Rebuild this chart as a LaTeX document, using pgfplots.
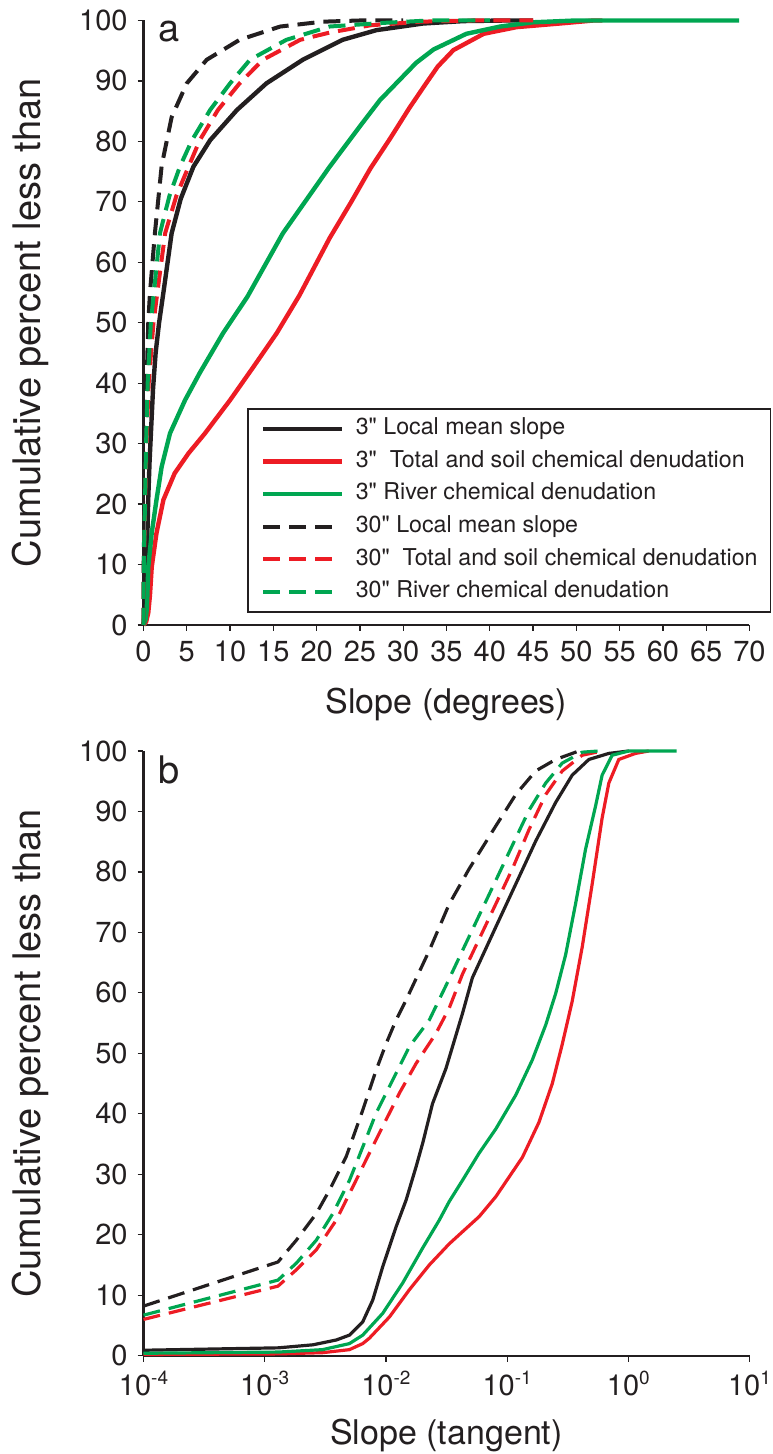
\documentclass[border=0pt]{standalone}
\usepackage{pgfplots}
\pgfplotsset{compat=1.18}
\usepackage{fontspec}
\setmainfont{TeX Gyre Heros}[Ligatures=TeXOff]
\definecolor{cblack}{HTML}{231F20}
\definecolor{cred}{HTML}{ED1C24}
\definecolor{cgreen}{HTML}{00A651}
\newcommand{\sx}[1]{10\raisebox{5.5pt}{\fontsize{9.5}{10}\selectfont #1}}
\pgfplotsset{
 mystyle/.style={
  scale only axis, width=303pt,
  axis x line*=bottom, axis y line*=left,
  axis line style={-, line width=1.1pt, cblack},
  every outer x axis line/.append style={-},
  every outer y axis line/.append style={-},
  tick align=outside, major tick length=3pt,
  every tick/.style={cblack, line width=0.6pt},
  tick label style={font=\fontsize{14.5}{16}\selectfont, text=cblack, inner sep=0pt},
  yticklabel style={xshift=-4.8pt},
  xticklabel style={yshift=-4.8pt},
  /pgf/number format/assume math mode=true,
  ymin=0, ymax=100, ytick={0,10,...,100},
  clip=false,
  xminorticks=false, yminorticks=false,
  ylabel={Cumulative percent less than},
  every axis y label/.style={at={(axis description cs:-0.187,0.5)}, rotate=90, anchor=center, font=\fontsize{19}{21}\selectfont, text=cblack},
  every axis x label/.style={at={(axis description cs:0.5,-0.132)}, anchor=center, font=\fontsize{17}{20}\selectfont, text=cblack},
 },
 sa/.style={line width=2.2pt},
 da/.style={line width=2pt, dash pattern=on 8.5pt off 4.5pt},
 sb/.style={line width=1.6pt},
 db/.style={line width=1.6pt, dash pattern=on 8.5pt off 4.5pt},
 dleg/.style={legend image code/.code={\draw[##1] (0pt,0pt) -- (35pt,0pt);}},
}
\begin{document}
\begin{tikzpicture}
\path[use as bounding box] (0,0) rectangle (386pt,727pt);
% ---------------- panel a ----------------
\begin{axis}[mystyle,
  at={(71.75pt,414.5pt)}, anchor=south west, height=302.25pt,
  xmin=0, xmax=70, xtick={0,5,...,70},
  xlabel={Slope (degrees)},
  legend image code/.code={\draw[#1] (0pt,0pt) -- (39.5pt,0pt);},
  legend style={at={(axis description cs:0.1708,0.359)}, anchor=north west,
    draw=cblack, line width=0.8pt, fill=white,
    inner xsep=6.5pt, inner ysep=4pt,
    font=\fontsize{11.6}{13}\selectfont, text=cblack,
    row sep=4.3pt, column sep=5.8pt,
    nodes={inner sep=0pt, text height=9pt, text depth=3pt},
    cells={anchor=west}},
  legend cell align=left,
]
\addplot[sa, cblack] coordinates {(0,0)(0.15,3)(0.3,9)(0.45,15)(0.55,21)(0.7,27)(0.9,33)(1.1,39)(1.4,45)(1.8,50)(2.3,55)(3.25,64.8)(4.3,70.5)(5.76,75.8)(7.7,80.2)(10.8,85.2)(14.2,89.6)(18.4,93.5)(23,96.8)(26.9,98.4)(32.3,99.5)(37,99.9)(42,100)(45,100)};
\addlegendentry{3" Local mean slope}
\addplot[sa, cred] coordinates {(0,0)(0.3,0.5)(0.55,2)(0.75,5)(0.95,9.6)(1.5,15.2)(2.3,20.7)(3.6,25.1)(5.2,28.4)(7.1,31.7)(10,37.2)(12.7,42.7)(15.4,48.3)(18,54.5)(21.5,64)(24,70)(26.2,75.5)(28.5,80.5)(30.7,85.5)(32.5,89.3)(34,92.4)(35.8,95.1)(39.3,97.8)(43.1,98.9)(48.1,99.5)(52,100)(53,100)};
\addlegendentry{3"\ \ Total and soil chemical denudation}
\addplot[sa, cgreen] coordinates {(0,0)(0.25,1)(0.37,2.5)(0.45,5)(0.55,9.6)(0.95,15.2)(1.5,20.7)(2.1,26.2)(3.06,31.7)(4.8,37.2)(6.5,41.7)(9.2,48.3)(12,54.3)(16.1,64.8)(21.5,75.8)(25,82.5)(27.3,86.8)(29.6,90.2)(31.5,93)(33.5,95.2)(37.3,97.8)(41.2,99)(45,99.7)(50,100)(68.8,100)};
\addlegendentry{3" River chemical denudation}
\addplot[da, cblack, dleg] coordinates {(0,0)(0.005,8)(0.07,15)(0.11,20)(0.23,30)(0.36,40)(0.55,50)(0.75,55)(1.33,65)(2.1,76)(3.25,84)(5,89.6)(7.3,93.5)(11.1,96.8)(15.8,99)(20.7,99.8)(25,100)(30,100)};
\addlegendentry{30" Local mean slope}
\addplot[da, cred, dleg] coordinates {(0,0)(0.02,6)(0.06,11)(0.19,20)(0.34,30)(0.6,40)(1.15,50)(1.6,55)(2.5,64.8)(3.8,71)(5.2,75.8)(6.5,80.2)(8.6,85.2)(11.1,89.6)(13.8,93.5)(18.1,96.8)(21.5,98)(26.2,99.2)(32,99.8)(38,100)(45,100)};
\addlegendentry{30"\ \ Total and soil chemical denudation}
\addplot[da, cgreen, dleg] coordinates {(0,0)(0.02,7)(0.06,12)(0.17,20)(0.3,30)(0.48,40)(0.85,50)(1.2,55)(1.9,64.8)(3,71)(4.2,75.8)(5.6,80.2)(7.7,85.2)(10,89.6)(12.3,93.5)(16.5,96.8)(21.5,99)(27.7,99.6)(33,100)(40,100)};
\addlegendentry{30" River chemical denudation}
\node[anchor=base west, inner sep=0pt, font=\fontsize{19}{21}\selectfont, text=cblack] at (axis description cs:0.0239,0.9644) {a};
\end{axis}
% ---------------- panel b ----------------
\begin{axis}[mystyle,
  at={(71.75pt,49.15pt)}, anchor=south west, height=302.35pt,
  xmode=log, xmin=1e-4, xmax=10,
  xtick={1e-4,1e-3,1e-2,1e-1,1,10},
  xticklabels={\sx{-4},\sx{-3},\sx{-2},\sx{-1},\sx{0},\sx{1}},
  xticklabel style={text height=10.4pt, yshift=-1.5pt},
  xlabel={Slope (tangent)},
]
\addplot[sb, cblack] coordinates {(1e-4,0.9)(1.3e-3,1.3)(2.5e-3,1.8)(3.9e-3,2.6)(5.0e-3,3.4)(6.44e-3,5.6)(7.79e-3,9.2)(9.41e-3,14.7)(1.213e-2,21.3)(1.466e-2,25.7)(1.772e-2,31.2)(2.009e-2,35.1)(2.427e-2,41.7)(3.13e-2,47.5)(4.285e-2,56.6)(5.17e-2,62.5)(8.07e-2,70.9)(0.1179,78)(0.1722,85.1)(0.2517,91.5)(0.3443,96)(0.473,98.6)(0.691,99.6)(1.009,100)};
\addplot[sb, cred] coordinates {(1e-4,0.2)(1.3e-3,0.3)(3e-3,0.5)(5e-3,1.0)(6.44e-3,2.0)(7.31e-3,2.9)(1.069e-2,6.4)(1.561e-2,10.9)(2.28e-2,15)(3.332e-2,18.5)(4.285e-2,20.5)(5.88e-2,23)(8.07e-2,26.3)(0.1337,32.8)(0.1832,38.6)(0.236,45)(0.2851,51.5)(0.3443,58.6)(0.4168,67.6)(0.5035,78)(0.608,88.9)(0.691,94.7)(0.835,98.6)(1.146,99.6)(1.475,100)};
\addplot[sb, cgreen] coordinates {(1e-4,0.4)(1.3e-3,0.6)(3e-3,1.0)(5e-3,2.0)(6.44e-3,3.4)(9.41e-3,7)(1.374e-2,12)(2.009e-2,17.8)(2.754e-2,22.4)(3.332e-2,25.5)(4.285e-2,29)(5.88e-2,33.5)(8.07e-2,37.5)(0.1179,43.1)(0.1614,48.9)(0.2083,54.7)(0.2517,59.9)(0.304,66.3)(0.367,74.7)(0.4444,83.8)(0.537,90.9)(0.608,96)(0.7357,99.3)(1.009,100)(2.507,100)};
\addplot[db, cblack] coordinates {(1e-4,8.2)(1.287e-3,15.5)(1.824e-3,19.1)(2.664e-3,23.5)(3.428e-3,27.4)(4.70e-3,32.9)(6.44e-3,40.6)(8.30e-3,47.2)(1.004e-2,51.6)(1.213e-2,55.5)(1.466e-2,58.8)(2.28e-2,67)(3.332e-2,74.7)(4.86e-2,80.5)(8.07e-2,87.6)(0.1179,92.8)(0.1722,96.7)(0.2517,98.6)(0.3914,100)};
\addplot[db, cred] coordinates {(1e-4,6.0)(1.287e-3,11.5)(1.824e-3,14.2)(2.664e-3,17.5)(3.89e-3,22.4)(5.33e-3,27.9)(7.31e-3,33.5)(9.41e-3,37.9)(1.291e-2,43.4)(1.772e-2,48.3)(2.588e-2,53.3)(3.332e-2,57.5)(4.285e-2,63.1)(5.88e-2,68.9)(8.07e-2,74.7)(0.1105,80.5)(0.1517,87)(0.2083,92.8)(0.2851,96.7)(0.4168,99.3)(0.608,100)};
\addplot[db, cgreen] coordinates {(1e-4,6.7)(1.287e-3,12.5)(1.824e-3,15.3)(2.664e-3,19.1)(3.648e-3,23.5)(5.007e-3,29)(6.44e-3,34.5)(8.30e-3,40.1)(1.138e-2,45.6)(1.561e-2,51.1)(2.28e-2,55.5)(3.13e-2,61.2)(4.285e-2,67)(5.88e-2,72.8)(8.07e-2,78.6)(0.1105,84.4)(0.1517,90.2)(0.2083,94.7)(0.2851,98)(0.4168,99.8)(0.5715,100)};
\node[anchor=base west, inner sep=0pt, font=\fontsize{19}{21}\selectfont, text=cblack] at (axis description cs:0.0244,0.947) {b};
\end{axis}
\end{tikzpicture}
\end{document}
